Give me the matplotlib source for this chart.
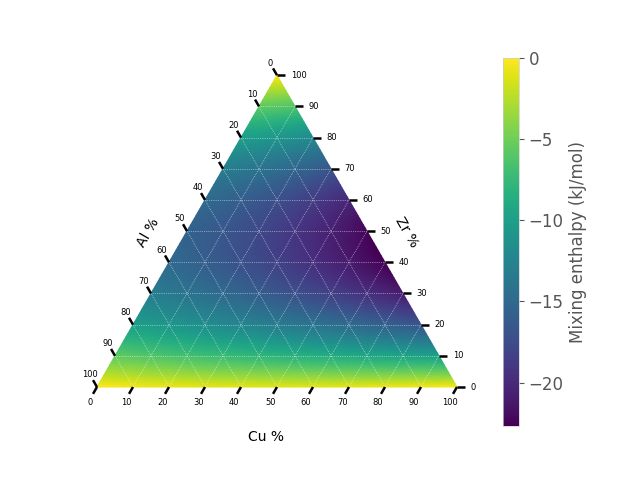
import numpy as np
import matplotlib
matplotlib.use("Agg")
import matplotlib.pyplot as plt
import matplotlib.tri as mtri

# binary interaction parameters for the Cu-Al-Zr system (kJ/mol)
# each pair (i, j): dH_ij = c_i * c_j * (reg + asym * (c_i - c_j))
pairs = [("Cu", "Al"), ("Cu", "Zr"), ("Al", "Zr")]
omega_reg = [-4.0, -89.0, -62.0]
omega_asym = [0.0, -25.0, 0.0]

tick_values = list(range(0, 101, 10))
grid_values = list(range(10, 100, 10))
cbar_ticks = [0, -5, -10, -15, -20]

SCALE = 100
S3 = np.sqrt(3) / 2


#project (Cu, Zr) to the cartesian plane, Al is what is left
def project(cu, zr):
    return cu + zr / 2.0, zr * S3


#regular / subregular solution mixing enthalpy
def mixing_enthalpy(conc):
    h = 0.0
    for (a, b), reg, asym in zip(pairs, omega_reg, omega_asym):
        ca, cb = conc[a], conc[b]
        h = h + ca * cb * (reg + asym * (ca - cb))
    return h


cu_pts, zr_pts = [], []
for i in range(SCALE + 1):
    for j in range(SCALE + 1 - i):
        cu_pts.append(i)
        zr_pts.append(j)
cu_pts = np.array(cu_pts, dtype=float)
zr_pts = np.array(zr_pts, dtype=float)
al_pts = SCALE - cu_pts - zr_pts
values = mixing_enthalpy({"Cu": cu_pts / SCALE, "Al": al_pts / SCALE, "Zr": zr_pts / SCALE})

fig = plt.figure(figsize=(6.4, 4.8), dpi=100)
ax = fig.add_axes([0, 0, 1, 1])
px = 3.6  # pixels per unit
ax.set_xlim(-97 / px, (640 - 97) / px)
ax.set_ylim(-93 / px, (480 - 93) / px)
ax.axis("off")

x, y = project(cu_pts, zr_pts)
tri = mtri.Triangulation(x, y)
hm = ax.tripcolor(tri, values, cmap="viridis", shading="gouraud",
                  vmin=values.min(), vmax=0)

# gridlines
glw = dict(color="white", lw=0.5, ls=":", alpha=0.8)
for k in grid_values:
    ax.plot(*zip(project(0, k), project(SCALE - k, k)), **glw)
    ax.plot(*zip(project(k, 0), project(k, SCALE - k)), **glw)
    ax.plot(*zip(project(SCALE - k, 0), project(0, SCALE - k)), **glw)

# ticks
tl = 2.2
tick_kw = dict(color="black", lw=1.8, solid_capstyle="butt")
for v in tick_values:
    # bottom axis: Cu
    bx, by = project(v, 0)
    ax.plot([bx, bx - 0.5 * tl], [by, by - S3 * tl], **tick_kw)
    ax.text(bx - 0.5 * 5.0 + 0.6, by - S3 * 5.0, str(v), fontsize=6, ha="center", va="center")
    # left axis: Al
    lx, ly = project(0, SCALE - v)
    ax.plot([lx, lx - 0.5 * tl], [ly, ly + S3 * tl], **tick_kw)
    ax.text(lx - 0.5 * 3.9, ly + S3 * 3.9, str(v), fontsize=6, ha="center", va="center")
    # right axis: Zr
    rx, ry = project(SCALE - v, v)
    ax.plot([rx, rx + tl], [ry, ry], **tick_kw)
    ax.text(rx + 3.8, ry, str(v), fontsize=6, ha="left", va="center")

ax.text(46.9, -13.9, "Cu %", fontsize=10, ha="center", va="center")
ax.text(14.2, 42.8, "Al %", fontsize=10, ha="center", va="center", rotation=60)
ax.text(86.1, 43.1, "Zr %", fontsize=10, ha="center", va="center", rotation=-60)

# colorbar
gray = "#555555"
cax = fig.add_axes([503 / 640, 1 - 426 / 480, 16 / 640, 368 / 480])
cb = fig.colorbar(hm, cax=cax)
cb.set_ticks(cbar_ticks)
cb.outline.set_linewidth(0.5)
cb.outline.set_edgecolor("#cccccc")
cax.tick_params(labelsize=12, colors=gray, length=3.5, width=0.8)
cb.set_label("Mixing enthalpy (kJ/mol)", fontsize=12, color=gray)

fig.savefig("out.png", dpi=100)
